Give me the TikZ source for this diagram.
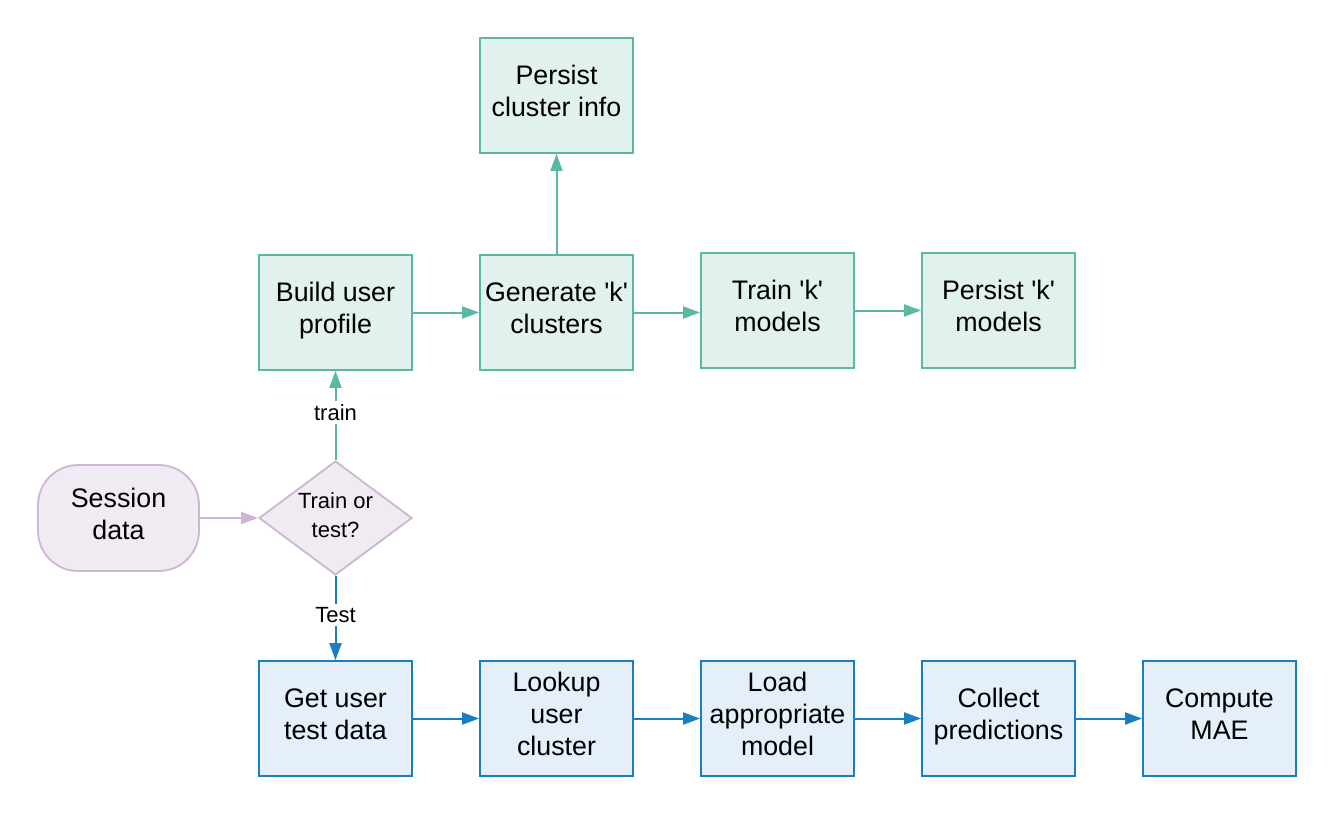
\documentclass[tikz,border=0pt]{standalone}
\usepackage{fontspec}
\setmainfont{Liberation Sans}
\usetikzlibrary{shapes.geometric,arrows.meta}
\definecolor{gfill}{HTML}{E1F1EE}
\definecolor{gline}{HTML}{5BB8A4}
\definecolor{bfill}{HTML}{E4EFF9}
\definecolor{bline}{HTML}{1A7FC0}
\definecolor{pfill}{HTML}{F0EAF2}
\definecolor{pline}{HTML}{CDB5D3}
\newcommand{\qk}{\textquotesingle k\textquotesingle}
\tikzset{
  box/.style={rectangle, minimum width=153pt, minimum height=115pt, line width=1.8pt, align=center, inner sep=0pt,
    font=\fontsize{26.8}{32}\selectfont, text height=52pt, text depth=10pt},
  three/.style={text height=84pt},
  gbox/.style={box, draw=gline, fill=gfill},
  bluebox/.style={box, draw=bline, fill=bfill},
  arr/.style={line width=2pt, -{Triangle[length=17pt,width=12pt]}},
  garr/.style={arr, draw=gline},
  barr/.style={arr, draw=bline},
  parr/.style={arr, draw=pline},
  lbl/.style={fill=white, inner sep=3pt, yshift=3pt, font=\fontsize{22}{26}\selectfont}
}
\begin{document}
\begin{tikzpicture}[x=1pt,y=-1pt]
\useasboundingbox (0,0) rectangle (1335,814);
\node[gbox] (pci) at (556.5,95.5) {Persist\\cluster info};
\node[gbox] (bup) at (335.5,312.5) {Build user\\profile};
\node[gbox] (gkc) at (556.5,312.5) {Generate \qk\\clusters};
\node[gbox] (tkm) at (777.5,310.5) {Train \qk\\models};
\node[gbox] (pkm) at (998.5,310.5) {Persist \qk\\models};
\node[rectangle, rounded corners=40pt, draw=pline, fill=pfill, line width=1.8pt, minimum width=161pt, minimum height=106pt, align=center, inner sep=0pt, font=\fontsize{26.8}{32}\selectfont, text height=52pt, text depth=10pt] (sd) at (118.5,518) {Session\\data};
\node[diamond, draw=pline, fill=pfill, line width=1.8pt, minimum width=153pt, minimum height=114pt, inner sep=0pt, aspect=1.34, align=center, font=\fontsize{22}{29}\selectfont, text height=45pt, text depth=7pt] (tt) at (335.5,518) {Train or\\test?};
\node[bluebox] (gut) at (335.5,718.5) {Get user\\test data};
\node[bluebox, three] (luc) at (556.5,718.5) {Lookup\\user\\cluster};
\node[bluebox, three] (lam) at (777.5,718.5) {Load\\appropriate\\model};
\node[bluebox] (cp) at (998.5,718.5) {Collect\\predictions};
\node[bluebox] (cm) at (1219.5,718.5) {Compute\\MAE};
\draw[garr] (bup.east) -- (gkc.east -| gkc.west);
\draw[garr] (gkc.east) -- (gkc.east -| tkm.west);
\draw[garr] (tkm.east) -- (pkm.west);
\draw[garr] (gkc.north) -- (pci.south);
\draw[garr] (tt.north) -- node[lbl] {train} (bup.south);
\draw[barr] (tt.south) -- node[lbl] {Test} (gut.north);
\draw[parr] (sd.east) -- (tt.west);
\draw[barr] (gut.east) -- (luc.west);
\draw[barr] (luc.east) -- (lam.west);
\draw[barr] (lam.east) -- (cp.west);
\draw[barr] (cp.east) -- (cm.west);
\end{tikzpicture}
\end{document}
